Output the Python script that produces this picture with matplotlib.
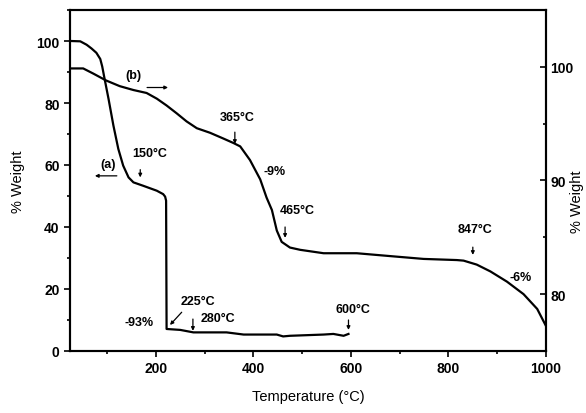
import matplotlib
matplotlib.use("Agg")
import matplotlib.pyplot as plt
from matplotlib.ticker import MultipleLocator

plt.rcParams["font.family"] = ["Liberation Sans", "DejaVu Sans"]
plt.rcParams["font.weight"] = "bold"

# curve (a): left axis
temp_a = [26, 45, 58, 68, 78, 86, 90, 94, 103, 113, 123, 133, 144, 154, 174, 202, 215, 219, 221, 222,
          250, 277, 345, 380, 448, 461, 475, 544, 564, 585, 595]
wt_a = [100, 99.9, 98.8, 97.6, 96.2, 94.2, 91.8, 88.5, 81.3, 72.7, 65.2, 59.8, 56, 54.4, 53.3, 51.7, 50.6, 49.8, 48.5, 7.1,
        6.8, 6.0, 6.0, 5.3, 5.3, 4.7, 4.9, 5.3, 5.5, 4.9, 5.5]

# curve (b): right axis
temp_b = [26, 51, 72, 98, 126, 154, 181, 202, 222, 243, 263, 284, 311, 338, 359, 373,
          393, 414, 427, 438, 448, 458, 475, 496, 544, 612, 680, 749, 817, 831, 858,
          886, 920, 954, 982, 1000]
wt_b = [99.86, 99.86, 99.4, 98.8, 98.3, 97.96, 97.7, 97.2, 96.6, 95.9, 95.2, 94.6, 94.2,
        93.7, 93.3, 93.0, 91.8, 90.1, 88.5, 87.4, 85.6, 84.6, 84.1, 83.9, 83.6, 83.6,
        83.35, 83.1, 83.0, 82.95, 82.6, 82.0, 81.1, 80.0, 78.7, 77.2]

# annotations in left-axis data units: (text, x, y)
labels = [("(b)", 154, 89), ("(a)", 102, 60.3), ("150°C", 188, 64), ("365°C", 366, 75.5),
          ("-9%", 444, 58), ("465°C", 490, 45.5), ("847°C", 855, 39.4), ("-6%", 947, 23.8),
          ("-93%", 165, 9.2), ("225°C", 287, 16.2), ("280°C", 328, 10.8), ("600°C", 605, 13.5)]
# arrows: (x_tail, y_tail, x_head, y_head)
arrows = [(182, 85, 225, 85), (120, 56.5, 75, 56.5), (168, 58.5, 168, 56), (362, 70.6, 362, 66.8),
          (465, 40, 465, 36.5), (850, 33.5, 850, 31), (253, 12.5, 229, 8.4), (276, 10.3, 276, 6.5),
          (595, 10, 595, 6.8)]

fig = plt.figure(figsize=(5.86, 4.14), dpi=100)
ax = fig.add_axes([0.1195, 0.1498, 0.8122, 0.8236])
ax2 = ax.twinx()

ax.plot(temp_a, wt_a, color="black", lw=1.6)
ax2.plot(temp_b, wt_b, color="black", lw=1.6)

ax.set_xlim(24, 1000)
ax.set_ylim(0, 110)
ax2.set_ylim(75, 105)

ax.xaxis.set_major_locator(MultipleLocator(200))
ax.xaxis.set_minor_locator(MultipleLocator(100))
ax.yaxis.set_major_locator(MultipleLocator(20))
ax.yaxis.set_minor_locator(MultipleLocator(10))
ax2.yaxis.set_major_locator(MultipleLocator(10))
ax2.yaxis.set_minor_locator(MultipleLocator(5))

ax.tick_params(axis="both", which="major", direction="out", length=4, width=1.2, labelsize=10)
ax.tick_params(axis="both", which="minor", direction="out", length=2.5, width=1.2)
ax.tick_params(axis="x", top=False, which="both")
ax2.tick_params(axis="y", which="major", direction="in", length=4, width=1.2, labelsize=10, pad=3)
ax2.tick_params(axis="y", which="minor", direction="in", length=2.5, width=1.2)
ax2.set_yticks([80, 90, 100])
for a in (ax, ax2):
    for s in a.spines.values():
        s.set_linewidth(1.5)
    for t in a.get_xticklabels() + a.get_yticklabels():
        t.set_fontweight("bold")

ax.set_yticks([0, 20, 40, 60, 80, 100])
ax.set_xlabel("Temperature (°C)", fontsize=10.5, fontweight="normal", labelpad=10)
ax.set_ylabel("% Weight", fontsize=10.5, fontweight="normal", labelpad=8)
ax2.set_ylabel("% Weight", fontsize=10.5, fontweight="normal", rotation=90)
ax2.yaxis.set_label_coords(1.05, 0.44)

for txt, x, y in labels:
    ax.text(x, y, txt, fontsize=9, ha="center", va="center", fontweight="bold")
for x0, y0, x1, y1 in arrows:
    ax.annotate("", xy=(x1, y1), xytext=(x0, y0),
                arrowprops=dict(arrowstyle="-|>", color="black", lw=0.9,
                                mutation_scale=5, shrinkA=0, shrinkB=0))

fig.savefig("out.png", dpi=100)
